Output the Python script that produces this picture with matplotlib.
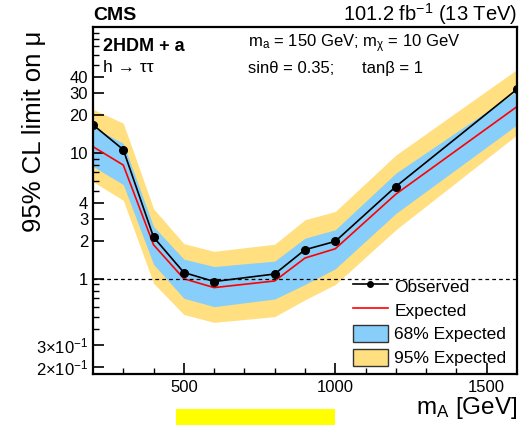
import numpy as np
import matplotlib.pyplot as plt
from matplotlib.patches import Patch, Rectangle
from matplotlib.lines import Line2D

plt.rcParams['font.family'] = ['Liberation Sans', 'DejaVu Sans']
plt.rcParams['mathtext.fontset'] = 'custom'
plt.rcParams['mathtext.rm'] = 'Liberation Sans'
plt.rcParams['mathtext.it'] = 'Liberation Sans'

# limits vs mA
mass = [200, 300, 400, 500, 600, 800, 900, 1000, 1200, 1600]
observed = [16.7, 10.6, 2.14, 1.12, 0.95, 1.09, 1.70, 1.98, 5.4, 32.0]
expected = [11.2, 8.0, 1.86, 1.0, 0.85, 0.96, 1.46, 1.73, 4.7, 23.3]
exp68_up = [16.0, 11.9, 2.6, 1.43, 1.25, 1.38, 2.1, 2.45, 6.9, 31.0]
exp68_dn = [7.8, 5.6, 1.3, 0.70, 0.60, 0.69, 0.90, 1.20, 3.3, 16.7]
exp95_up = [22.2, 17.2, 3.6, 1.9, 1.65, 1.88, 2.94, 3.42, 9.6, 46.0]
exp95_dn = [5.9, 4.2, 0.92, 0.52, 0.45, 0.50, 0.68, 0.90, 2.45, 13.9]

ytick_vals = [0.2, 0.3, 1, 2, 3, 4, 10, 20, 30, 40]
ytick_labels = [r'2$\times$10$^{-1}$', r'3$\times$10$^{-1}$', '1', '2', '3', '4',
                '10', '20', '30', '40']
yminor_vals = [0.4, 0.5, 0.6, 0.7, 0.8, 0.9, 5, 6, 7, 8, 9, 50, 60, 70, 80, 90]

fig = plt.figure(figsize=(5.21, 4.25), dpi=100)
ax = fig.add_axes([0.1785, 0.12, 0.8138, 0.8165])

c95 = '#FFDF80'
c68 = '#87CEFA'
ax.fill_between(mass, exp95_dn, exp95_up, color=c95, lw=0)
ax.fill_between(mass, exp68_dn, exp68_up, color=c68, lw=0)
ax.plot(mass, expected, color='red', lw=1.2)
ax.plot(mass, observed, color='black', lw=1.2, marker='o', ms=5.5)
ax.axhline(1, color='black', lw=0.9, ls=(0, (3, 2.5)))

ax.set_yscale('log')
ax.set_xlim(200, 1600)
ax.set_ylim(0.175, 100)

ax.set_yticks(ytick_vals)
ax.set_yticklabels(ytick_labels)
ax.set_yticks(yminor_vals, minor=True)
ax.yaxis.set_minor_formatter(plt.NullFormatter())
ax.set_xticks([500, 1000, 1500])
ax.set_xticks(np.arange(300, 1600, 100), minor=True)

ax.tick_params(which='both', direction='in', top=False, right=False, labelsize=12)
ax.tick_params(which='major', length=8, width=1.2)
ax.tick_params(which='minor', length=4, width=1.0)
ax.tick_params(axis='x', pad=4)
for s in ax.spines.values():
    s.set_linewidth(1.6)

ax.set_xlabel(r'm$_{\mathrm{A}}$ [GeV]', fontsize=17.5, loc='right', labelpad=0)
ax.set_ylabel('95% CL limit on μ', fontsize=18.5, loc='top')
ax.yaxis.set_label_coords(-0.112, 0.99)

fig.text(0.1785, 0.952, 'CMS', fontsize=14, fontweight='bold', ha='left', va='baseline')
fig.text(0.9923, 0.952, r'101.2 fb$^{-1}$ (13 TeV)', fontsize=14.5, ha='right', va='baseline')

ax.text(0.024, 0.945, '2HDM + a', transform=ax.transAxes, fontsize=13, fontweight='bold', va='center')
ax.text(0.024, 0.882, 'h → ττ', transform=ax.transAxes, fontsize=12.5, va='center')
ax.text(0.365, 0.951, r'm$_{\mathrm{a}}$ = 150 GeV; m$_{χ}$ = 10 GeV', transform=ax.transAxes,
        fontsize=12, va='center')
ax.text(0.365, 0.879, 'sinθ = 0.35;      tanβ = 1', transform=ax.transAxes, fontsize=12, va='center')

handles = [Line2D([], [], color='black', lw=1.2, marker='o', ms=4),
           Line2D([], [], color='red', lw=1.2),
           Patch(facecolor=c68, edgecolor='#333333', lw=1.0),
           Patch(facecolor=c95, edgecolor='#333333', lw=1.0)]
labels = ['Observed', 'Expected', '68% Expected', '95% Expected']
ax.legend(handles, labels, loc='lower right', bbox_to_anchor=(1.0, -0.008), frameon=False,
          fontsize=12.5, handlelength=2.0, handleheight=1.2, labelspacing=0.35,
          handletextpad=0.4, borderaxespad=0.2)

fig.patches.append(Rectangle((176 / 521, 0), (335 - 176) / 521, 16 / 425,
                             transform=fig.transFigure, color='#FFFF00', lw=0))

fig.savefig('out.png', dpi=100)
